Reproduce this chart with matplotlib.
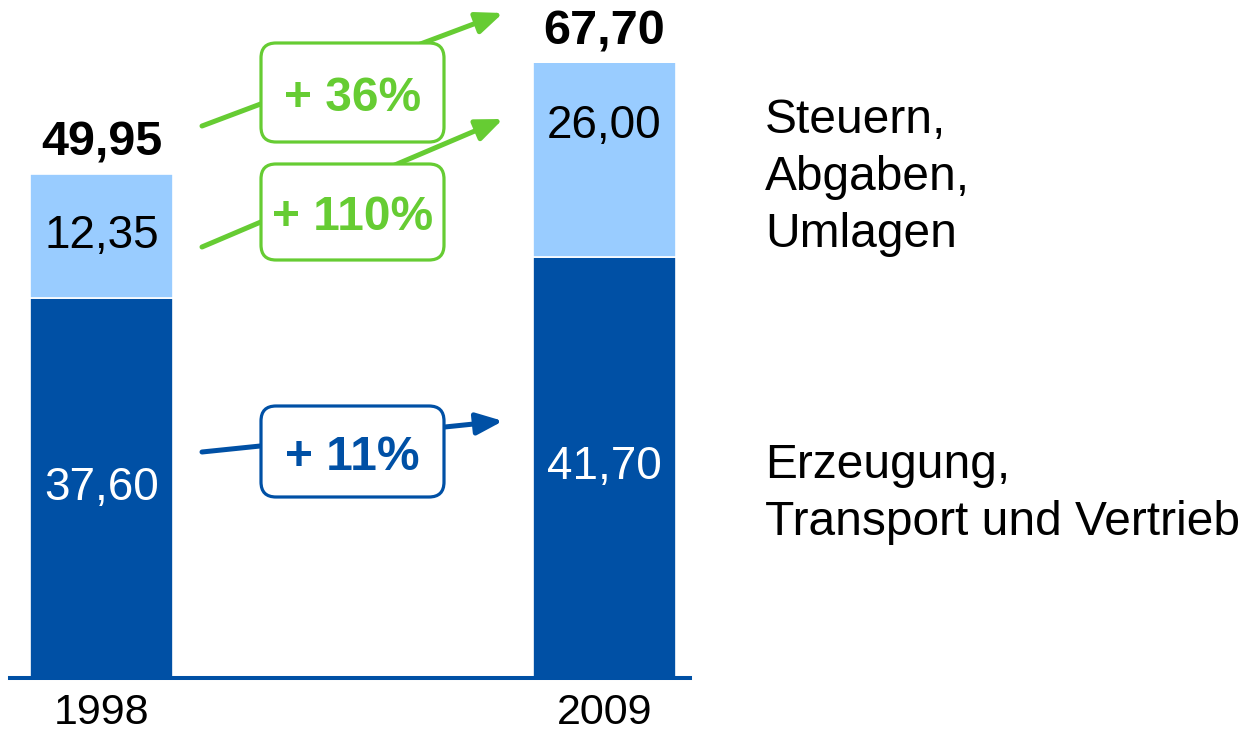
import matplotlib
matplotlib.use("Agg")
import matplotlib.pyplot as plt
from matplotlib.patches import FancyBboxPatch

plt.rcParams['font.family'] = ['Liberation Sans', 'DejaVu Sans']

# ---- data ----
years = ["1998", "2009"]
erzeugung = [37.60, 41.70]          # Erzeugung, Transport und Vertrieb
steuern = [12.35, 26.00]            # Steuern, Abgaben, Umlagen
totals = [49.95, 67.70]
bottom_labels = ["37,60", "41,70"]
top_labels = ["12,35", "26,00"]
total_labels = ["49,95", "67,70"]
legend_top = ["Steuern,", "Abgaben,", "Umlagen"]
legend_bottom = ["Erzeugung,", "Transport und Vertrieb"]
changes = ["+ 36%", "+ 110%", "+ 11%"]

DARK = "#0050A5"
LIGHT = "#99CCFF"
GREEN = "#66CC33"

W, H = 1247, 736
fig = plt.figure(figsize=(W / 100, H / 100), dpi=100)
fig.patch.set_facecolor("white")

# axes: from x=10..690 px, y=63..678 px (image coords)
ax = fig.add_axes([10 / W, 58 / H, 680 / W, 615 / H])
x = [0, 1]
bw = 0.286
ax.bar(x, erzeugung, width=bw, color=DARK, edgecolor="white", linewidth=1.2, zorder=1)
ax.bar(x, steuern, width=bw, bottom=erzeugung, color=LIGHT, edgecolor="white",
       linewidth=1.2, zorder=1)
ax.set_xlim(-0.1819, 1.170)
ymax = 60.9
ax.set_ylim(0, ymax)

for s in ["top", "left", "right"]:
    ax.spines[s].set_visible(False)
ax.spines["bottom"].set_color(DARK)
ax.spines["bottom"].set_linewidth(2.9)
ax.spines["bottom"].set_zorder(3)
ax.set_yticks([])
ax.set_xticks(x, years)
ax.tick_params(axis="x", length=0, labelsize=31, pad=11)

LBL = 33
for i in x:
    ax.text(i, erzeugung[i] / 2, bottom_labels[i], ha="center", va="center",
            color="white", fontsize=LBL)
    ax.text(i, erzeugung[i] + steuern[i] / 2, top_labels[i], ha="center", va="center",
            color="black", fontsize=LBL)
    top = min(totals[i], ymax)
    ax.annotate(total_labels[i], xy=(i, top), xytext=(0, 13), textcoords="offset points",
                ha="center", va="baseline", fontsize=35, fontweight="bold",
                color="black", annotation_clip=False)

# ---- helpers in image pixel coordinates ----
T = fig.dpi_scale_trans


def P(px, py):
    return (px / 100, (H - py) / 100)


def arrow(p0, p1, color):
    ax.annotate("", xy=P(*p1), xytext=P(*p0), xycoords=T, textcoords=T,
                arrowprops=dict(arrowstyle="-|>,head_length=0.8,head_width=0.33",
                                lw=3.6, color=color, shrinkA=0, shrinkB=0,
                                mutation_scale=20), zorder=4, annotation_clip=False)


PCT = 34.5


def box(x0, y0, x1, y1, text, color):
    bx, by = P(x0, y1)
    patch = FancyBboxPatch((bx, by), (x1 - x0) / 100, (y1 - y0) / 100,
                           boxstyle="round,pad=0,rounding_size=0.15",
                           transform=T, facecolor="white", edgecolor=color,
                           linewidth=2.3, zorder=5)
    fig.patches.append(patch)
    em = PCT * 100 / 72
    cx, cy = P((x0 + x1) / 2, (y0 + y1) / 2 + 1 + 0.36 * em)
    fig.text(cx, cy, text, transform=T, ha="center", va="baseline", color=color,
             fontsize=PCT, fontweight="bold", zorder=6)


arrow((202, 126), (503, 13), GREEN)
arrow((202, 247), (503, 119), GREEN)
arrow((202, 452), (503, 421), DARK)
box(261, 43, 444, 142, changes[0], GREEN)
box(261, 164, 444, 260, changes[1], GREEN)
box(261, 406, 444, 497, changes[2], DARK)

# legend-like labels
LEG = 34.5
for txt, yb in zip(legend_top, [133, 190, 247]):
    fig.text(*P(765, yb), txt, transform=T, ha="left", va="baseline", fontsize=LEG)
for txt, yb in zip(legend_bottom, [478, 535]):
    fig.text(*P(765, yb), txt, transform=T, ha="left", va="baseline", fontsize=LEG)

fig.savefig("out.png", dpi=100, facecolor="white")
